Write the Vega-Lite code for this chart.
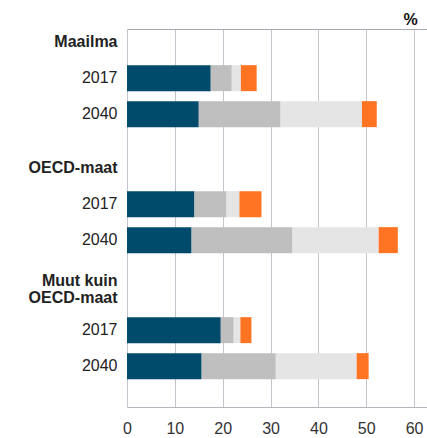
{
  "$schema": "https://vega.github.io/schema/vega-lite/v6.json",
  "autosize": {"type": "none"},
  "width": 300,
  "height": 378,
  "padding": {"left": 127, "top": 29, "right": 0, "bottom": 31},
  "background": "white",
  "config": {
    "view": {"stroke": null},
    "font": "Liberation Sans"
  },
  "data": {
    "values": [
      {"rivi": "Maailma 2017", "osa": "1", "arvo": 17.5},
      {"rivi": "Maailma 2017", "osa": "2", "arvo": 4.4},
      {"rivi": "Maailma 2017", "osa": "3", "arvo": 1.9},
      {"rivi": "Maailma 2017", "osa": "4", "arvo": 3.3},
      {"rivi": "Maailma 2040", "osa": "1", "arvo": 15.0},
      {"rivi": "Maailma 2040", "osa": "2", "arvo": 17.1},
      {"rivi": "Maailma 2040", "osa": "3", "arvo": 17.0},
      {"rivi": "Maailma 2040", "osa": "4", "arvo": 3.1},
      {"rivi": "OECD-maat 2017", "osa": "1", "arvo": 14.1},
      {"rivi": "OECD-maat 2017", "osa": "2", "arvo": 6.7},
      {"rivi": "OECD-maat 2017", "osa": "3", "arvo": 2.7},
      {"rivi": "OECD-maat 2017", "osa": "4", "arvo": 4.6},
      {"rivi": "OECD-maat 2040", "osa": "1", "arvo": 13.5},
      {"rivi": "OECD-maat 2040", "osa": "2", "arvo": 21.1},
      {"rivi": "OECD-maat 2040", "osa": "3", "arvo": 18.0},
      {"rivi": "OECD-maat 2040", "osa": "4", "arvo": 4.0},
      {"rivi": "Muut kuin OECD-maat 2017", "osa": "1", "arvo": 19.6},
      {"rivi": "Muut kuin OECD-maat 2017", "osa": "2", "arvo": 2.7},
      {"rivi": "Muut kuin OECD-maat 2017", "osa": "3", "arvo": 1.4},
      {"rivi": "Muut kuin OECD-maat 2017", "osa": "4", "arvo": 2.3},
      {"rivi": "Muut kuin OECD-maat 2040", "osa": "1", "arvo": 15.6},
      {"rivi": "Muut kuin OECD-maat 2040", "osa": "2", "arvo": 15.5},
      {"rivi": "Muut kuin OECD-maat 2040", "osa": "3", "arvo": 16.9},
      {"rivi": "Muut kuin OECD-maat 2040", "osa": "4", "arvo": 2.5}
    ]
  },
  "encoding": {
    "y": {
      "field": "rivi",
      "type": "nominal",
      "scale": {
        "domain": ["Maailma", "_1", "Maailma 2017", "_2", "Maailma 2040", "_3", "_4", "OECD-maat", "_5", "OECD-maat 2017", "_6", "OECD-maat 2040", "_7", "_8", "Muut kuin OECD-maat", "_9", "Muut kuin OECD-maat 2017", "_10", "Muut kuin OECD-maat 2040"],
        "paddingInner": 0,
        "paddingOuter": 1.185,
        "align": 0.115,
        "round": false
      },
      "axis": {
        "title": null,
        "domain": false,
        "ticks": false,
        "grid": false,
        "labelPadding": 10,
        "labelOverlap": false,
        "labelFontSize": 16,
        "labelColor": "#222",
        "labelLineHeight": 17,
        "labelOffset": {"condition": {"test": "datum.value == 'Muut kuin OECD-maat'", "value": -13}, "value": 0},
        "labelFontWeight": {"condition": {"test": "indexof(datum.value, ' 20') < 0", "value": "bold"}, "value": "normal"},
        "labelExpr": "indexof(datum.value, ' 20') > 0 ? slice(datum.value, -4) : (indexof(datum.value, '_') == 0 ? '' : (datum.value == 'Muut kuin OECD-maat' ? ['Muut kuin', 'OECD-maat'] : datum.value))"
      }
    },
    "color": {
      "field": "osa",
      "type": "nominal",
      "scale": {"domain": ["1", "2", "3", "4"], "range": ["#004a6c", "#bfbfbf", "#e5e5e5", "#ff7422"]},
      "legend": null
    },
    "order": {"field": "osa", "sort": "ascending"}
  },
  "layer": [
    {
      "mark": {"type": "bar", "size": 26},
      "encoding": {
        "x": {
          "field": "arvo",
          "type": "quantitative",
          "stack": "zero",
          "scale": {"domain": [0, 62.7], "nice": false, "zero": true},
          "axis": {
            "title": null,
            "orient": "bottom",
            "values": [0, 10, 20, 30, 40, 50, 60],
            "grid": true,
            "gridColor": "#c4c4cc",
            "gridOpacity": 1,
            "ticks": false,
            "domain": true,
            "domainColor": "#b4b4bc",
            "labelPadding": 13,
            "labelFontSize": 16,
            "labelColor": "#333",
            "labelFlush": false
          }
        }
      }
    },
    {
      "mark": {"type": "bar", "size": 26, "opacity": 0},
      "encoding": {
        "x": {
          "field": "arvo",
          "type": "quantitative",
          "stack": "zero",
          "scale": {"domain": [0, 62.7], "nice": false, "zero": true},
          "axis": {
            "orient": "top",
            "title": "%",
            "titleFontSize": 16,
            "titleFontWeight": "bold",
            "titleColor": "#111",
            "titleAngle": 0,
            "titleAlign": "center",
            "titleBaseline": "alphabetic",
            "titleX": 283,
            "titleY": -5,
            "labels": false,
            "ticks": false,
            "grid": false,
            "domain": true,
            "domainColor": "#a8a8b0",
            "domainWidth": 1.2,
            "domainOpacity": 1
          }
        }
      }
    }
  ],
  "resolve": {"axis": {"x": "independent"}}
}
